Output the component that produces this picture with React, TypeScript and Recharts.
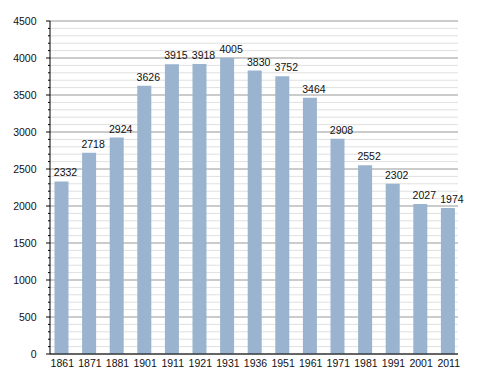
import { BarChart, Bar, XAxis, YAxis, CartesianGrid, LabelList } from "recharts";

const years = ["1861", "1871", "1881", "1901", "1911", "1921", "1931", "1936", "1951", "1961", "1971", "1981", "1991", "2001", "2011"];
const population = [2332, 2718, 2924, 3626, 3915, 3918, 4005, 3830, 3752, 3464, 2908, 2552, 2302, 2027, 1974];
const majorTicks = [0, 500, 1000, 1500, 2000, 2500, 3000, 3500, 4000, 4500];
const minorTicks = Array.from({ length: 46 }, (_, i) => i * 100);

const data = years.map((year, i) => ({ year, value: population[i] }));

const FONT = "'Liberation Sans', Arial, sans-serif";

// left axis: short ticks every 100, labels only on multiples of 500
function YTick(props: any) {
    const { x, y, payload } = props;
    const axisX = x + 8; // tick x comes in offset by tickSize + tickMargin
    const major = payload.value % 500 === 0;
    return (
        <g>
            <line x1={axisX - (major ? 4 : 2)} x2={axisX} y1={y} y2={y} stroke="#000" />
            {major && (
                <text x={axisX - 13.5} y={y} dy={3.5} textAnchor="end" fontSize={10.5} fill="#111" fontFamily={FONT}>
                    {payload.value}
                </text>
            )}
        </g>
    );
}

// value labels sit a little right of the bar centre, like the original
function ValueLabel(props: any) {
    const { x, y, width, value } = props;
    return (
        <text x={x + width / 2 + 4} y={y - 5} textAnchor="middle" fontSize={10.5} fill="#111" fontFamily={FONT}>
            {value}
        </text>
    );
}

export default function App() {
    return (
        <div style={{ position: "absolute", left: 0, top: 0, background: "#fff" }}>
            <BarChart
                width={488}
                height={373}
                data={data}
                margin={{ top: 21, right: 30, left: 0, bottom: 0 }}
                barCategoryGap={7}
            >
                <CartesianGrid vertical={false} horizontalValues={minorTicks} stroke="#e0e0e0" />
                <CartesianGrid vertical={false} horizontalValues={majorTicks} stroke="#a8a8a8" />
                <XAxis
                    dataKey="year"
                    height={19}
                    tickLine={false}
                    axisLine={{ stroke: "#000" }}
                    interval={0}
                    padding={{ left: -2.5, right: -3.5 }}
                    tick={{ fontSize: 10.5, fill: "#111", fontFamily: FONT, dx: 1 }}
                    tickMargin={0}
                />
                <YAxis
                    width={50}
                    domain={[0, 4500]}
                    ticks={minorTicks}
                    interval={0}
                    tickLine={false}
                    axisLine={{ stroke: "#000" }}
                    tick={<YTick />}
                />
                <Bar dataKey="value" fill="#9ab3cf" isAnimationActive={false}>
                    <LabelList dataKey="value" content={<ValueLabel />} />
                </Bar>
            </BarChart>
        </div>
    );
}
